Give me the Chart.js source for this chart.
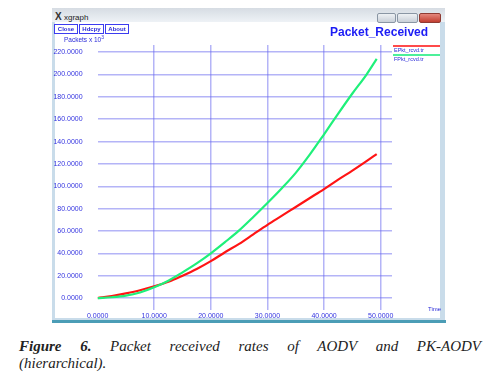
<!DOCTYPE html>
<html>
<head>
<meta charset="utf-8">
<script src="https://cdn.jsdelivr.net/npm/chart.js@4.4.0/dist/chart.umd.min.js"></script>
<style>
  body { margin: 0; width: 488px; height: 378px; background: #fff; position: relative; overflow: hidden; font-family: "Liberation Sans", Arial, sans-serif; }
  .abs { position: absolute; }
  #frame { left: 52px; top: 8px; width: 393px; height: 315px; background: #c9dcea; }
  #titlebar { left: 52px; top: 8px; width: 393px; height: 14px; background: linear-gradient(#d6dce3, #eef2f6); }
  #inner { left: 55px; top: 22px; width: 385px; height: 296px; background: #fff; }
  #bottombar { left: 52px; top: 320px; width: 394px; height: 3px; background: #4b9db6; }
  .wbtn { top: 13px; height: 8px; border: 1px solid #8a96a4; border-radius: 2px; background: linear-gradient(#eef1f4, #c9d0d8); }
  .btn { top: 24px; height: 8px; border: 1px solid #3c3cf0; color: #2a2ad8; font-size: 6px; font-weight: bold; line-height: 8px; text-align: center; }
  .blue { color: #2a2ad8; }
  canvas { position: absolute; left: 0; top: 0; z-index: 2; }
  .over { z-index: 3; }
  #caption { left: 19px; top: 338px; width: 462px; font-family: "Liberation Serif", "Times New Roman", serif; font-style: italic; font-size: 15px; color: #222; line-height: 16.5px; }
</style>
</head>
<body>
<div id="frame" class="abs"></div>
<div id="titlebar" class="abs"></div>
<div id="inner" class="abs"></div>
<div id="bottombar" class="abs"></div>
<div class="abs" style="left:55px;top:11px;font-size:10px;font-weight:bold;color:#333;">X</div>
<div class="abs" style="left:64px;top:13px;font-size:8px;color:#222;">xgraph</div>
<div class="abs wbtn" style="left:377px;width:17px;"></div>
<div class="abs wbtn" style="left:397px;width:19px;"></div>
<div class="abs wbtn" style="left:419px;width:20px;background:linear-gradient(#e4877c,#c23e30);border-color:#8f3b33;"></div>
<div class="abs btn over" style="left:54px;width:22px;">Close</div>
<div class="abs btn over" style="left:79px;width:23px;">Hdcpy</div>
<div class="abs btn over" style="left:105px;width:22px;">About</div>
<div class="abs blue over" style="left:64px;top:34px;font-size:6.5px;">Packets x 10<sup style="font-size:5px;">3</sup></div>
<div class="abs over" style="left:330px;top:25px;font-size:12px;font-weight:bold;color:#1c1cf5;">Packet_Received</div>
<div class="abs over" style="left:393px;top:45px;width:47px;height:1.5px;background:#ff4a4a;"></div>
<div class="abs blue over" style="left:394px;top:47px;font-size:5.5px;">EPkt_rcvd.tr</div>
<div class="abs over" style="left:393px;top:54px;width:47px;height:1.5px;background:#4cf09a;"></div>
<div class="abs blue over" style="left:394px;top:56px;font-size:5.5px;">FPkt_rcvd.tr</div>
<div class="abs blue over" style="left:428px;top:306px;font-size:6px;">Time</div>
<canvas id="grafica" width="488" height="378"></canvas>
<div id="caption" class="abs">
  <div style="text-align:justify;text-align-last:justify;"><b>Figure 6.</b> Packet received rates of AODV and PK-AODV</div>
  <div>(hierarchical).</div>
</div>
<script>
// valores (tiempo en s, paquetes x 10^3)
var tiempos = [0, 2.5, 5, 7.5, 10, 12.5, 15, 17.5, 20, 22.5, 25, 27.5, 30, 32.5, 35, 37.5, 40, 42.5, 45, 47.5, 49.3];
var epkt = [0, 1.8, 4.2, 7, 10.5, 14.5, 20, 26, 33, 41, 48.5, 57, 65.5, 73.5, 81.5, 89.5, 97.5, 106, 114, 122.5, 128.8];
var fpkt = [0, 0.7, 2.1, 5, 9.6, 15.5, 23, 31, 40, 50, 60.5, 72.5, 85, 98, 112, 128.5, 146.5, 165, 183, 200, 214];
var ticksX = [0, 10, 20, 30, 40, 50];
var ticksY = [0, 20, 40, 60, 80, 100, 120, 140, 160, 180, 200, 220];

var colorGrid = 'rgba(105, 105, 240, 0.5)';
var colorTexto = '#3434e0';
var fuente = { family: 'Liberation Sans', size: 7 };

function puntos(valores) {
  var p = [];
  for (var i = 0; i < tiempos.length; i++) {
    p.push({ x: tiempos[i], y: valores[i] });
  }
  return p;
}

var ctx = document.getElementById('grafica').getContext('2d');
var chart = new Chart(ctx, {
  type: 'line',
  data: {
    datasets: [{
      label: 'FPkt_rcvd.tr',
      data: puntos(fpkt),
      borderColor: '#1ff07a',
      borderWidth: 2.2,
      pointRadius: 0,
      cubicInterpolationMode: 'monotone'
    }, {
      label: 'EPkt_rcvd.tr',
      data: puntos(epkt),
      borderColor: '#ff1414',
      borderWidth: 2.2,
      pointRadius: 0,
      cubicInterpolationMode: 'monotone'
    }]
  },
  options: {
    responsive: false,
    animation: false,
    layout: { padding: { top: 45, right: 96, left: 0, bottom: 0 } },
    plugins: { legend: { display: false }, tooltip: { enabled: false } },
    scales: {
      x: {
        type: 'linear',
        min: 0,
        max: 52,
        afterBuildTicks: function(s) { s.ticks = ticksX.map(function(v) { return { value: v }; }); },
        afterFit: function(s) { s.height = 68; },
        border: { display: false },
        grid: {
          drawTicks: false,
          lineWidth: 1.5,
          color: function(c) { return (c.tick && c.tick.value === 0) ? 'rgba(0,0,0,0)' : colorGrid; }
        },
        ticks: {
          autoSkip: false,
          maxRotation: 0,
          padding: 2,
          color: colorTexto,
          font: fuente,
          callback: function(v) { return Number(v).toFixed(4); }
        }
      },
      y: {
        min: -10.7,
        max: 226.4,
        afterBuildTicks: function(s) { s.ticks = ticksY.map(function(v) { return { value: v }; }); },
        afterFit: function(s) { s.width = 97.6; },
        border: { display: false },
        grid: { drawTicks: false, lineWidth: 1.5, color: colorGrid },
        ticks: {
          autoSkip: false,
          padding: 15,
          color: colorTexto,
          font: fuente,
          callback: function(v) { return Number(v).toFixed(4); }
        }
      }
    }
  }
});
</script>
</body>
</html>
